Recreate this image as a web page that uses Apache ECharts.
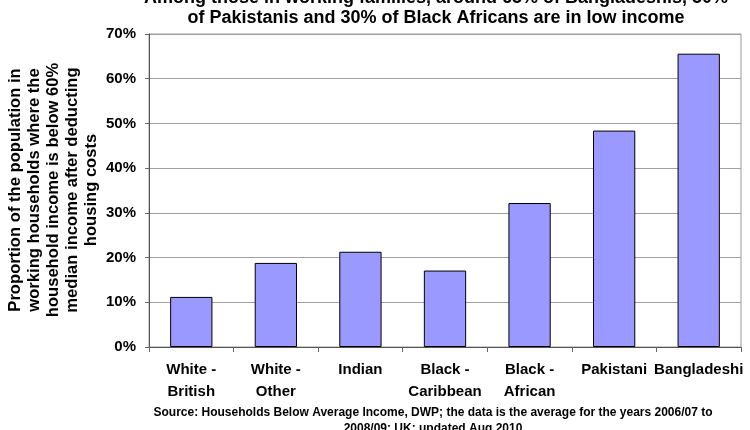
<!DOCTYPE html>
<html>
<head>
<meta charset="utf-8">
<script src="https://cdn.jsdelivr.net/npm/echarts@6/dist/echarts.min.js"></script>
<style>
html,body{margin:0;padding:0;background:#fff;}
#chart{width:750px;height:430px;}
</style>
</head>
<body>
<div id="chart"></div>
<script>
var categories = ["White -\nBritish", "White -\nOther", "Indian", "Black -\nCaribbean", "Black -\nAfrican", "Pakistani", "Bangladeshi"];
var values = [11.2, 18.8, 21.3, 17.1, 32.2, 48.4, 65.6];
var yTicks = [0, 10, 20, 30, 40, 50, 60, 70];
var titleText = "Among those in working families, around 65% of Bangladeshis, 50%\nof Pakistanis and 30% of Black Africans are in low income";
var yAxisTitle = "Proportion of the population in\nworking households where the\nhousehold income is below 60%\nmedian income after deducting\nhousing costs";
var sourceText = "Source: Households Below Average Income, DWP; the data is the average for the years 2006/07 to\n2008/09; UK; updated Aug 2010";

var FONT = "'Liberation Sans', Arial, sans-serif";
var chart = echarts.init(document.getElementById('chart'), null, {renderer: 'canvas'});
chart.setOption({
  animation: false,
  backgroundColor: '#fff',
  title: [{
    text: titleText,
    left: 436,
    top: -12,
    padding: 0,
    textAlign: 'center',
    textStyle: {fontFamily: FONT, fontSize: 18, fontWeight: 'bold', color: '#000', lineHeight: 20}
  }, {
    text: sourceText,
    left: 433,
    top: 405,
    padding: 0,
    textAlign: 'center',
    textStyle: {fontFamily: FONT, fontSize: 12, fontWeight: 'bold', color: '#000', lineHeight: 16}
  }],
  graphic: [{
    type: 'text',
    x: 53,
    y: 190,
    rotation: Math.PI / 2,
    style: {
      text: yAxisTitle,
      fontFamily: FONT, fontSize: 16.6, fontWeight: 'bold', fill: '#000',
      lineHeight: 19, align: 'center', verticalAlign: 'middle'
    }
  }],
  grid: {left: 149, right: 9, top: 34, bottom: 83, show: true, borderColor: '#999', borderWidth: 1,
         containLabel: false, outerBoundsMode: 'none'},
  xAxis: {
    type: 'category',
    data: categories,
    boundaryGap: true,
    axisLine: {show: true, lineStyle: {color: '#555', width: 1}},
    axisTick: {show: true, length: 5, alignWithLabel: false, lineStyle: {color: '#666'}},
    axisLabel: {interval: 0, margin: 12, fontFamily: FONT, fontSize: 15, fontWeight: 'bold', color: '#000', lineHeight: 22}
  },
  yAxis: {
    type: 'value',
    min: yTicks[0],
    max: yTicks[yTicks.length - 1],
    interval: 10,
    axisLine: {show: true, lineStyle: {color: '#555', width: 1}},
    axisTick: {show: true, length: 4, lineStyle: {color: '#666'}},
    axisLabel: {margin: 13, fontFamily: FONT, fontSize: 15, fontWeight: 'bold', color: '#000', formatter: '{value}%'},
    splitLine: {show: true, lineStyle: {color: '#a0a0a0', width: 1}}
  },
  series: [{
    type: 'bar',
    data: values,
    barWidth: '50%',
    itemStyle: {color: '#9999FF', borderColor: '#000', borderWidth: 1}
  }]
});
</script>
</body>
</html>
